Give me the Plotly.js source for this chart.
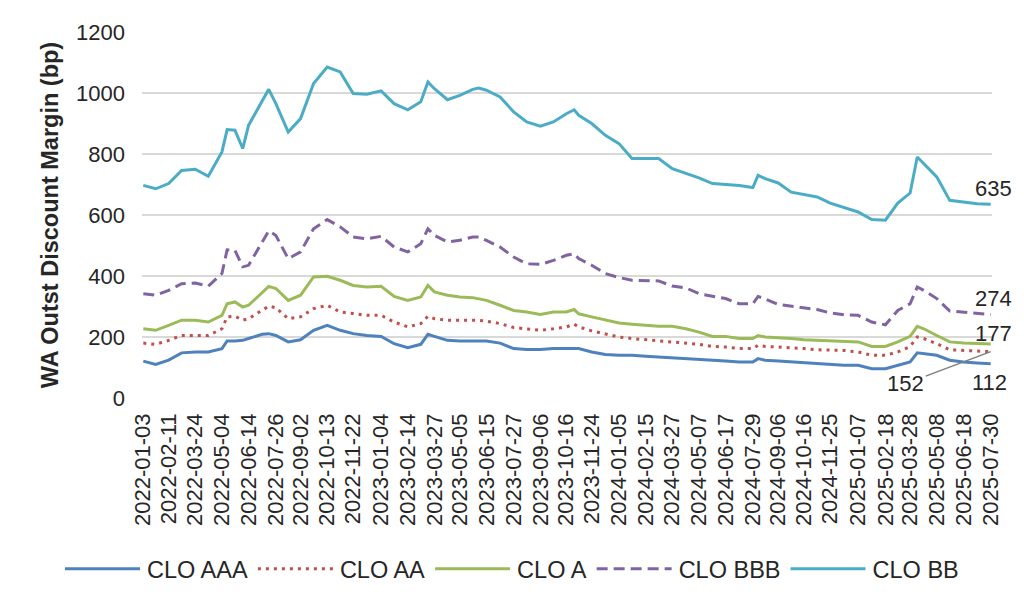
<!DOCTYPE html>
<html>
<head>
<meta charset="utf-8">
<script src="https://cdn.plot.ly/plotly-3.0.1.min.js"></script>
<style>
  html, body { margin: 0; padding: 0; background: #ffffff; }
  #chart { width: 1024px; height: 607px; }
</style>
</head>
<body>
<div id="chart"></div>
<script>
// ---- Data ----
const dates = [
  "2022-01-03","2022-01-22","2022-02-11","2022-03-03","2022-03-24","2022-04-13","2022-05-04","2022-05-12",
  "2022-05-24","2022-06-05","2022-06-14","2022-07-05","2022-07-15","2022-07-26","2022-08-14","2022-09-02",
  "2022-09-22","2022-10-13","2022-11-02","2022-11-22","2022-12-13","2023-01-04","2023-01-24","2023-02-14",
  "2023-03-06","2023-03-17","2023-03-27","2023-04-16","2023-05-05","2023-05-25","2023-06-03","2023-06-15",
  "2023-07-06","2023-07-27","2023-08-16","2023-09-06","2023-09-26","2023-10-16","2023-10-28","2023-11-04",
  "2023-11-24","2023-12-15","2024-01-05","2024-01-25","2024-02-15","2024-03-06","2024-03-27","2024-04-17",
  "2024-05-07","2024-05-28","2024-06-17","2024-07-08","2024-07-29","2024-08-06","2024-08-17","2024-09-06",
  "2024-09-26","2024-10-16","2024-11-05","2024-11-25","2024-12-16","2025-01-07","2025-01-28","2025-02-18",
  "2025-03-09","2025-03-28","2025-04-08","2025-04-18","2025-05-08","2025-05-28","2025-06-18","2025-07-09",
  "2025-07-30"
];

const cloAAA = [
  121,110,124,148,151,151,162,187, 187,189,195,209,211,205,184,191,
  222,238,222,211,205,202,178,165, 176,209,202,189,187,187,187,187,
  180,162,159,159,162,162,164,162, 151,143,140,140,137,134,132,129,
  126,124,121,118,118,129,124,121, 118,115,113,110,107,107,96,96,
  107,118,148,145,140,124,118,115, 112
];
const cloAA = [
  180,176,189,205,205,205,227,266, 268,255,260,287,301,296,260,266,
  293,304,282,277,271,271,249,233, 244,268,260,255,255,255,255,252,
  244,231,227,222,227,233,242,233, 220,211,200,195,191,187,184,178,
  176,169,167,162,162,173,169,167, 165,162,158,156,156,151,140,140,
  151,169,200,195,178,158,156,156, 152
];
const cloA = [
  227,222,238,255,255,249,271,309, 315,298,304,348,366,359,320,337,
  397,399,386,369,364,366,333,320, 331,369,348,337,331,329,326,320,
  304,287,282,274,282,282,290,276, 266,255,246,242,238,235,235,227,
  216,202,202,195,195,205,200,198, 195,191,189,187,184,184,169,169,
  184,202,235,227,205,184,180,178, 177
];
const cloBBB = [
  342,337,353,375,377,367,408,486, 484,430,435,512,548,533,457,479,
  555,585,561,528,522,530,495,479, 506,555,533,512,517,528,528,517,
  495,462,440,438,451,468,473,457, 435,408,395,386,386,384,367,361,
  342,333,326,309,309,333,325,307, 301,296,290,279,273,271,249,240,
  287,309,364,353,326,285,282,279, 274
];
const cloBB = [
  697,686,703,746,750,727,807,880, 878,818,894,971,1012,965,872,916,
  1031,1085,1069,998,996,1007,965,945, 971,1036,1014,978,992,1012,1016,1009,
  987,938,905,891,905,932,945,927, 900,861,834,785,785,785,752,736,
  722,703,701,697,690,730,719,705, 675,668,659,639,626,610,585,583,
  639,672,790,768,725,648,643,637, 635
];

const tickDates = [
  "2022-01-03","2022-02-11","2022-03-24","2022-05-04","2022-06-14","2022-07-26","2022-09-02","2022-10-13",
  "2022-11-22","2023-01-04","2023-02-14","2023-03-27","2023-05-05","2023-06-15","2023-07-27","2023-09-06",
  "2023-10-16","2023-11-24","2024-01-05","2024-02-15","2024-03-27","2024-05-07","2024-06-17","2024-07-29",
  "2024-09-06","2024-10-16","2024-11-25","2025-01-07","2025-02-18","2025-03-28","2025-05-08","2025-06-18",
  "2025-07-30"
];

const seriesNames = ["CLO AAA","CLO AA","CLO A","CLO BBB","CLO BB"];

// ---- Styling ----
const FONT = "Liberation Sans, Arial, Helvetica, sans-serif";
const TXT = "#262626";
const colors = ["#4F81BD","#C0504D","#9BBB59","#8064A2","#4BACC6"];
const dashes = ["solid","3px,5px","solid","11px,6px","solid"];
const values = [cloAAA, cloAA, cloA, cloBBB, cloBB];

const traces = values.map((v, i) => ({
  type: "scatter",
  mode: "lines",
  name: seriesNames[i],
  x: dates,
  y: v,
  line: { color: colors[i], width: 3, dash: dashes[i] },
  hoverinfo: "x+y+name"
}));

const lastDate = dates[dates.length - 1];
const last = v => v[v.length - 1];

const annotations = [
  { x: lastDate, y: last(cloBB),  text: String(last(cloBB)),  showarrow: false, xshift: 3, yshift: 16 },
  { x: lastDate, y: last(cloBBB), text: String(last(cloBBB)), showarrow: false, xshift: 3, yshift: 16 },
  { x: lastDate, y: last(cloA),   text: String(last(cloA)),   showarrow: false, xshift: 3, yshift: 11 },
  { x: lastDate, y: last(cloAAA), text: String(last(cloAAA)), showarrow: false, xshift: -1, yshift: -19 },
  { x: lastDate, y: last(cloAA),  text: String(last(cloAA)),  showarrow: true, arrowhead: 0,
    arrowcolor: "#7F7F7F", arrowwidth: 1.5, ax: -85, ay: 32, standoff: 0 }
].map(a => Object.assign({ xref: "x", yref: "y", font: { family: FONT, size: 22, color: TXT } }, a));

const LEGEND_LINE = 75;   // legend sample line length (px)

const layout = {
  width: 1024,
  height: 607,
  margin: { l: 142, r: 32, t: 32, b: 209 },
  paper_bgcolor: "#ffffff",
  plot_bgcolor: "#ffffff",
  font: { family: FONT, size: 22, color: TXT },
  showlegend: true,
  legend: {
    orientation: "h",
    xref: "paper", yref: "paper",
    x: -0.0965, y: -0.467, xanchor: "left", yanchor: "middle",
    font: { family: FONT, size: 23.5, color: TXT },
    itemwidth: LEGEND_LINE + 2,
    traceorder: "normal"
  },
  xaxis: {
    type: "date",
    range: ["2022-01-01", "2025-08-01"],
    tickmode: "array",
    tickvals: tickDates,
    ticktext: tickDates,
    tickangle: -90,
    tickfont: { family: FONT, size: 22, color: TXT },
    ticklabelstandoff: 10,
    showgrid: false,
    zeroline: false,
    showline: false,
    ticks: ""
  },
  yaxis: {
    range: [0, 1200],
    tickmode: "linear",
    tick0: 0,
    dtick: 200,
    tickfont: { family: FONT, size: 22, color: TXT },
    ticklabelstandoff: 16,
    showgrid: true,
    gridcolor: "#D9D9D9",
    gridwidth: 2,
    zeroline: false,
    showline: false,
    ticks: "",
    title: {
      text: "WA Outst Discount Margin (bp)",
      font: { family: FONT, size: 23.5, color: TXT, weight: "bold" },
      standoff: 10
    }
  },
  annotations: annotations
};

Plotly.newPlot("chart", traces, layout, { displayModeBar: false, staticPlot: true }).then(gd => {
  // lengthen the legend sample lines to match the reference legend
  gd.querySelectorAll(".legend .legendlines path").forEach(p => {
    p.setAttribute("d", "M5,0h" + LEGEND_LINE);
  });
});
</script>
</body>
</html>
